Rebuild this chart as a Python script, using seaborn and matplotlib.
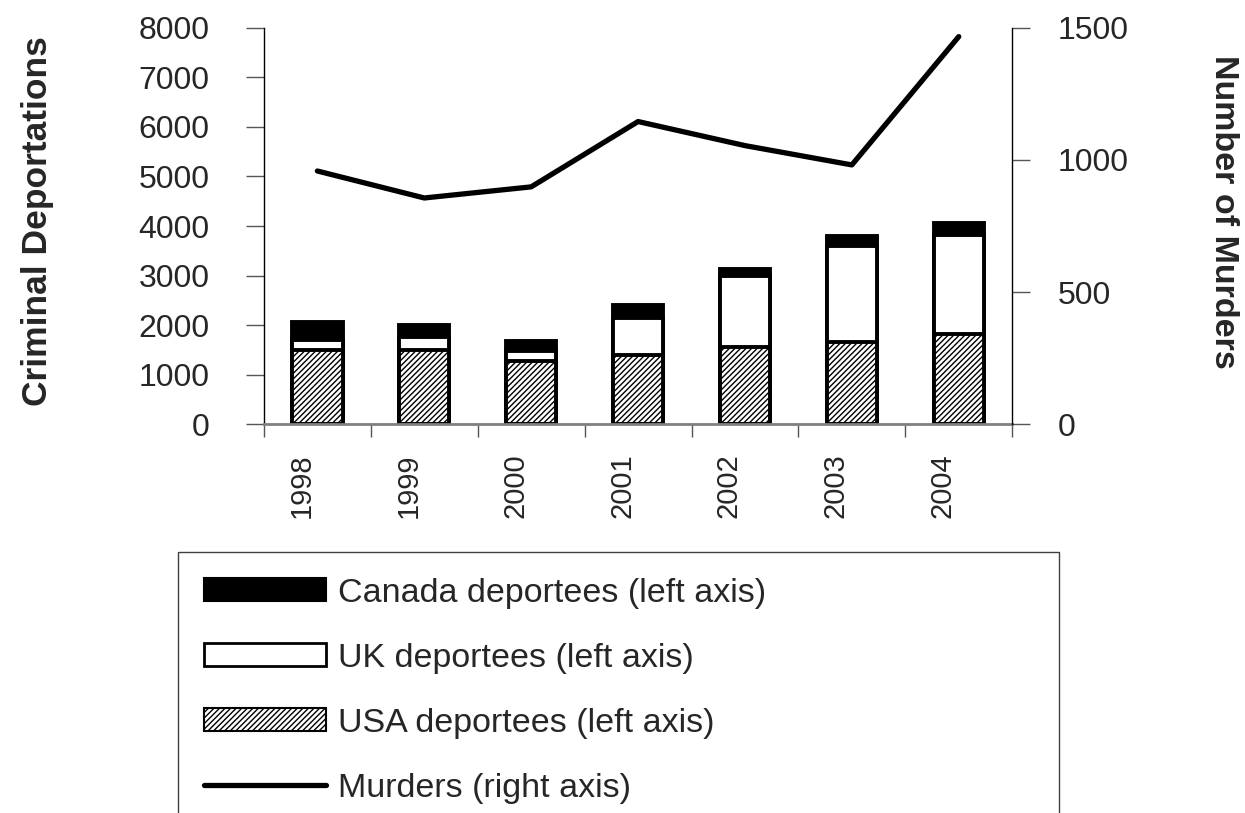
import numpy as np
import matplotlib
matplotlib.use("Agg")
import matplotlib.pyplot as plt
import matplotlib.transforms as mtransforms
from matplotlib.patches import Patch
from matplotlib.lines import Line2D
import seaborn as sns

# data
years = ['1998', '1999', '2000', '2001', '2002', '2003', '2004']
usa = [1490, 1500, 1270, 1400, 1570, 1670, 1830]
uk = [210, 260, 210, 750, 1420, 1930, 1990]
canada = [370, 250, 200, 250, 140, 190, 250]
murders = [958, 856, 898, 1145, 1054, 981, 1466]

left_ticks = [0, 1000, 2000, 3000, 4000, 5000, 6000, 7000, 8000]
right_ticks = [0, 500, 1000, 1500]

sns.set_style('white')
plt.rcParams['font.family'] = ['Liberation Sans', 'DejaVu Sans']
plt.rcParams['hatch.linewidth'] = 1.0

usa_top = np.array(usa)
uk_top = usa_top + np.array(uk)
total = uk_top + np.array(canada)

fig = plt.figure(figsize=(12.45, 8.13), dpi=100)
ax = fig.add_axes([0.212, 0.478, 0.601, 0.488])

# stacked bars drawn back to front
bar_kw = dict(edgecolor='black', linewidth=2.8, width=0.47, saturation=1, errorbar=None, ax=ax)
sns.barplot(x=years, y=total, color='black', **bar_kw)
sns.barplot(x=years, y=uk_top, color='white', **bar_kw)
sns.barplot(x=years, y=usa_top, color='white', hatch='//////', **bar_kw)

ax.set_xlim(-0.5, len(years) - 0.5)
ax.set_ylim(0, 8000)
ax.set_yticks(left_ticks)
ax.set_xlabel('')
ax.set_ylabel('Criminal Deportations', fontsize=25.5, fontweight='bold')
ax.yaxis.set_label_coords(-0.281, 0.512)

# right axis: murders
ax2 = ax.twinx()
sns.lineplot(x=np.arange(len(years)), y=murders, color='black', linewidth=3.8,
             solid_capstyle='round', ax=ax2)
ax2.set_ylim(0, 1500)
ax2.set_yticks(right_ticks)
ax2.set_ylabel('Number of Murders', fontsize=24.5, fontweight='bold', rotation=270, va='bottom')
ax2.yaxis.set_label_coords(1.262, 0.535)

for a in (ax, ax2):
    for s in a.spines.values():
        s.set_visible(False)
ax.spines['left'].set_visible(True)
ax.spines['left'].set_color('black')
ax.spines['left'].set_linewidth(1)
ax.spines['bottom'].set_visible(True)
ax.spines['bottom'].set_color('#808080')
ax.spines['bottom'].set_linewidth(2)
ax2.spines['right'].set_visible(True)
ax2.spines['right'].set_color('black')
ax2.spines['right'].set_linewidth(1)

ax.tick_params(axis='y', direction='out', length=13, width=1, color='#555555',
               labelsize=23, pad=26, left=True)
ax2.tick_params(axis='y', direction='out', length=13, width=1, color='#555555',
                labelsize=23, pad=20, right=True)

# x ticks between categories, labels rotated
ax.set_xticks(np.arange(-0.5, len(years), 1.0), minor=True)
ax.tick_params(axis='x', which='minor', direction='out', length=9, width=1,
               color='#555555', bottom=True)
ax.tick_params(axis='x', which='major', length=0, labelsize=21, pad=21)
ax.set_xticks(range(len(years)))
ax.set_xticklabels(years, rotation=90, va='top')
shift = mtransforms.ScaledTranslation(-16 / 100, 0, fig.dpi_scale_trans)
for lab in ax.get_xticklabels():
    lab.set_transform(lab.get_transform() + shift)

# legend
handles = [
    Patch(facecolor='black', edgecolor='black', linewidth=1.5),
    Patch(facecolor='white', edgecolor='black', linewidth=2),
    Patch(facecolor='white', edgecolor='black', linewidth=1.5, hatch='//////'),
    Line2D([0], [0], color='black', linewidth=3.8, solid_capstyle='round'),
]
labels = ['Canada deportees (left axis)', 'UK deportees (left axis)',
          'USA deportees (left axis)', 'Murders (right axis)']
leg = fig.legend(handles, labels, loc='upper left',
                 bbox_to_anchor=(0.143, -0.05, 0.708, 0.371), mode='expand',
                 fontsize=24.5, frameon=True, fancybox=False, framealpha=1,
                 edgecolor='#404040', handlelength=3.6, handleheight=0.65,
                 handletextpad=0.35, labelspacing=1.0, borderpad=0.75,
                 borderaxespad=0)
leg.get_frame().set_linewidth(1)

fig.savefig('out.png', dpi=100)
